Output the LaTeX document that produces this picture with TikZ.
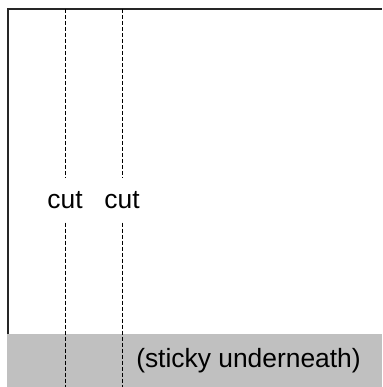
\documentclass[tikz,border=0pt]{standalone}
\usepackage{fontspec}
\setmainfont{Liberation Sans}
\definecolor{stickygray}{RGB}{192,192,192}
\tikzset{
  frameline/.style={
    draw=black!85, line width=1.1pt
  },
  cutline/.style={
    draw=black, line width=0.7pt,
    dash pattern=on 4pt off 2pt
  },
  cutlabel/.style={
    inner sep=0pt, minimum height=45pt,
    font=\fontsize{26.4}{30}\selectfont
  }
}

\begin{document}
\begin{tikzpicture}[x=1pt,y=1pt]
\useasboundingbox (0,0) rectangle (382,387);

%%%sticky strip
  \fill[stickygray] (7,0) rectangle (382,53);
  \node[font=\fontsize{26.4}{30}\selectfont] (sticky) at (248.5,26.5) {(sticky underneath)};

%%%sheet
  \draw[frameline] (8,53) -- (8,378) -- (382,378);

%%%%%%%%%cut lines
  \coordinate (top1) at (65,378);
  \coordinate (bot1) at (65,0);
  \coordinate (top2) at (122,378);
  \coordinate (bot2) at (122,0);
  \node[cutlabel] (cut1) at (65,187) {cut};
  \node[cutlabel] (cut2) at (122,187) {cut};
  \draw[cutline] (top1) -- (cut1);
  \draw[cutline] (cut1) -- (bot1);
  \draw[cutline] (top2) -- (cut2);
  \draw[cutline] (cut2) -- (bot2);

\end{tikzpicture}
\end{document}
